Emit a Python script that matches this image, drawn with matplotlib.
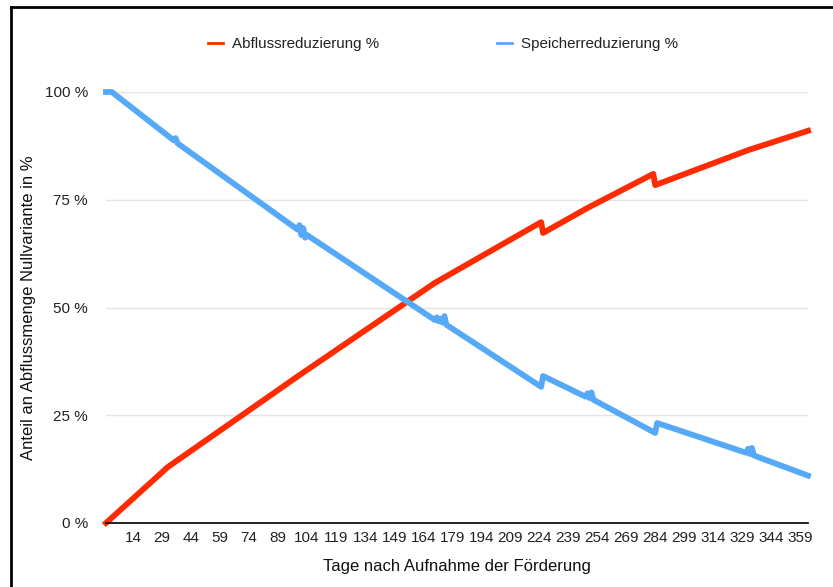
import numpy as np
import matplotlib
matplotlib.use("Agg")
import matplotlib.pyplot as plt
from matplotlib.lines import Line2D

plt.rcParams['font.family'] = ['Liberation Sans', 'DejaVu Sans']

# values (day, percent)
abfluss_days = [0, 32, 100, 170, 225, 226, 249, 283, 284, 332, 363]
abfluss_vals = [0.0, 13.0, 34.3, 55.7, 69.8, 67.3, 73.1, 81.0, 78.4, 86.5, 91.0]

speicher_days = [0, 3, 35, 36, 37, 99, 100, 101, 102, 103, 104,
                 170, 171, 172, 173, 174, 175, 176, 225, 226,
                 248, 249, 250, 251, 252, 284, 285,
                 331, 332, 333, 334, 335, 336, 363]
speicher_vals = [100.0, 100.0, 88.8, 89.3, 88.1, 68.1, 69.1, 66.8, 68.4, 66.2, 66.8,
                 47.1, 47.7, 46.8, 47.4, 46.5, 48.0, 46.0, 31.6, 34.1,
                 29.3, 30.1, 29.0, 30.3, 28.6, 20.9, 23.2,
                 16.3, 17.2, 16.0, 17.4, 15.7, 15.5, 11.0]

xticks = list(range(14, 360, 15))
yticks = [0, 25, 50, 75, 100]
ytick_labels = ["0 %", "25 %", "50 %", "75 %", "100 %"]

red = "#ff2a00"
blue = "#55a9f7"

fig = plt.figure(figsize=(8.33, 5.87), dpi=100)
ax = fig.add_axes([106/833, 1-523/587, (808-106)/833, (523-92)/587])

ax.plot(abfluss_days, abfluss_vals, color=red, lw=4.2, solid_joinstyle='round',
        clip_on=False, zorder=3, label="Abflussreduzierung %")
ax.plot(speicher_days, speicher_vals, color=blue, lw=4.2, solid_joinstyle='round',
        clip_on=False, zorder=3, label="Speicherreduzierung %")

ax.set_xlim(0, 363)
ax.set_ylim(0, 100)
ax.set_xticks(xticks)
ax.set_xticklabels([str(t) for t in xticks])
ax.set_yticks(yticks)
ax.set_yticklabels(ytick_labels)
ax.tick_params(length=0, labelsize=11, colors="#222222")
ax.tick_params(axis='y', pad=13)
ax.tick_params(axis='x', pad=6)

for s in ['top', 'right', 'left']:
    ax.spines[s].set_visible(False)
ax.spines['bottom'].set_color('#111111')
ax.spines['bottom'].set_linewidth(1.3)
ax.spines['bottom'].set_zorder(4)
ax.grid(axis='y', color='#e4e4e4', lw=1)
ax.set_axisbelow(True)

ax.set_xlabel("Tage nach Aufnahme der Förderung", fontsize=12, color="#111111", labelpad=10)
ax.set_ylabel("Anteil an Abflussmenge Nullvariante in %", fontsize=12, color="#111111", labelpad=6)

handles = [Line2D([], [], color=red, lw=2), Line2D([], [], color=blue, lw=2)]
fig.legend(handles, ["Abflussreduzierung %", "Speicherreduzierung %"],
           loc='center', bbox_to_anchor=(443/833, 1-44/587), ncol=2, frameon=False,
           fontsize=10.9, handlelength=1.0, handletextpad=0.6, columnspacing=7.8,
           labelcolor="#222222")

# frame border (top and left edge of the screenshot)
fig.add_artist(Line2D([11/833, 11/833], [0, 1-7/587], transform=fig.transFigure, color='k', lw=2))
fig.add_artist(Line2D([11/833, 1], [1-7/587, 1-7/587], transform=fig.transFigure, color='k', lw=2))

fig.savefig("out.png", dpi=100)
